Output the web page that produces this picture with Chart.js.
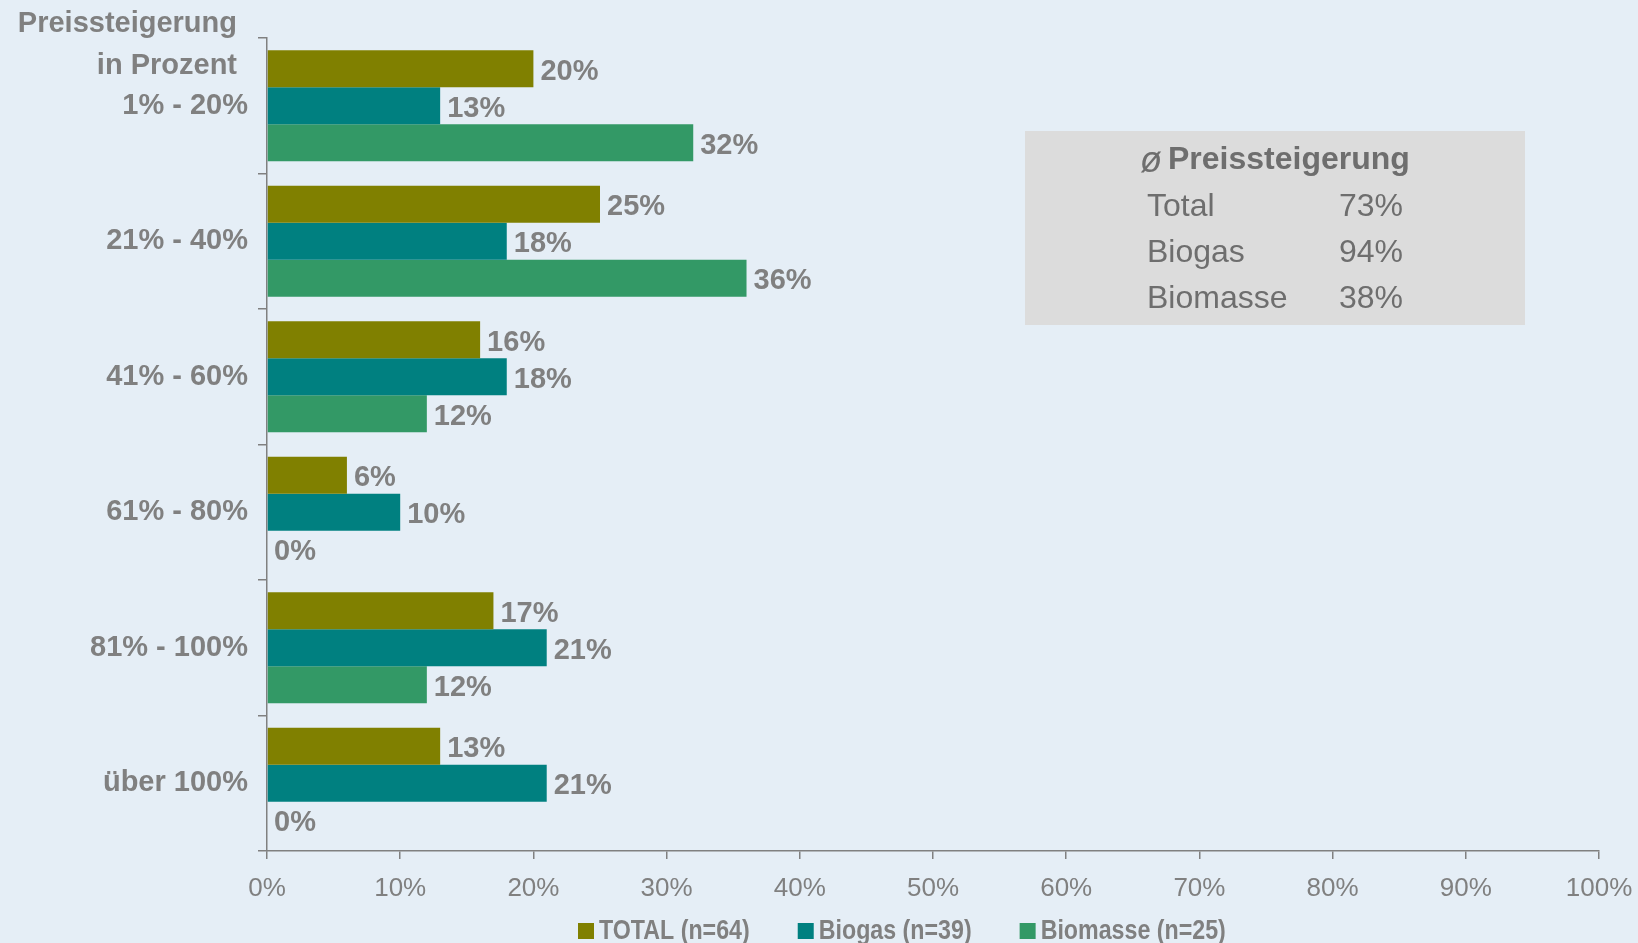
<!DOCTYPE html>
<html>
<head>
<meta charset="utf-8">
<script src="https://cdn.jsdelivr.net/npm/chart.js@4"></script>
<style>
  body { margin: 0; background: #e5eef6; }
  #wrap { width: 1638px; height: 943px; }
</style>
</head>
<body>
<div id="wrap"><canvas id="chart"></canvas></div>
<script>
const categories = ['1% - 20%', '21% - 40%', '41% - 60%', '61% - 80%', '81% - 100%', 'über 100%'];
const totalValues = [20, 25, 16, 6, 17, 13];
const biogasValues = [13, 18, 18, 10, 21, 21];
const biomasseValues = [32, 36, 12, 0, 12, 0];
const seriesNames = ['TOTAL (n=64)', 'Biogas (n=39)', 'Biomasse (n=25)'];
const averageRows = ['Total', 'Biogas', 'Biomasse'];
const averageValues = [73, 94, 38];

const GREY = '#808080';
const FONT = '"Liberation Sans", Arial, sans-serif';

// background, axis title, value labels, legend and the average box
const extras = {
    id: 'extras',
    beforeDraw(chart) {
        const ctx = chart.ctx;
        ctx.save();
        ctx.fillStyle = '#e5eef6';
        ctx.fillRect(0, 0, chart.width, chart.height);
        ctx.restore();
    },
    afterDatasetsDraw(chart) {
        const ctx = chart.ctx;
        ctx.save();
        ctx.fillStyle = GREY;
        ctx.font = 'bold 29px ' + FONT;
        ctx.textBaseline = 'middle';
        ctx.textAlign = 'left';
        chart.data.datasets.forEach((ds, i) => {
            chart.getDatasetMeta(i).data.forEach((bar, j) => {
                ctx.fillText(ds.data[j] + '%', bar.x + 7, bar.y + 3);
            });
        });

        // axis title
        ctx.textAlign = 'right';
        ctx.font = 'bold 29px ' + FONT;
        ctx.fillText('Preissteigerung', 237, 24);
        ctx.fillText('in Prozent', 237, 66);

        // legend (condensed bold, like the original)
        let lx = 578;
        const ly = 931;
        ctx.textAlign = 'left';
        ctx.font = 'bold 27px ' + FONT;
        chart.data.datasets.forEach(ds => {
            ctx.fillStyle = ds.backgroundColor;
            ctx.fillRect(lx, ly - 8, 16, 16);
            ctx.fillStyle = GREY;
            const sx = 0.86;
            ctx.save();
            ctx.translate(lx + 21, ly + 1);
            ctx.scale(sx, 1);
            ctx.fillText(ds.label, 0, 0);
            ctx.restore();
            lx += 21 + ctx.measureText(ds.label).width * sx + 48;
        });

        // average box
        ctx.fillStyle = '#dcdcdc';
        ctx.fillRect(1025, 131, 500, 194);
        ctx.fillStyle = '#6e6e6e';
        ctx.textAlign = 'left';
        ctx.font = 'italic 36px ' + FONT;
        ctx.fillText('ø', 1140, 162);
        ctx.font = 'bold 32px ' + FONT;
        ctx.fillText('Preissteigerung', 1168, 160);
        ctx.font = '32px ' + FONT;
        averageRows.forEach((r, i) => {
            const y = 207 + i * 46;
            ctx.textAlign = 'left';
            ctx.fillText(r, 1147, y);
            ctx.textAlign = 'right';
            ctx.fillText(averageValues[i] + '%', 1403, y);
        });
        ctx.restore();
    }
};

new Chart(document.getElementById('chart'), {
    type: 'bar',
    data: {
        labels: categories,
        datasets: [
            { label: seriesNames[0], data: totalValues, backgroundColor: '#808000' },
            { label: seriesNames[1], data: biogasValues, backgroundColor: '#008080' },
            { label: seriesNames[2], data: biomasseValues, backgroundColor: '#339966' }
        ]
    },
    options: {
        indexAxis: 'y',
        responsive: true,
        maintainAspectRatio: false,
        animation: false,
        layout: { padding: { top: 38, right: 39, left: 0, bottom: 34 } },
        datasets: { bar: { categoryPercentage: 0.82, barPercentage: 1.0 } },
        plugins: {
            tooltip: { enabled: false },
            legend: { display: false }
        },
        scales: {
            x: {
                min: 0,
                max: 100,
                ticks: {
                    stepSize: 10,
                    color: GREY,
                    padding: 14,
                    font: { family: FONT, size: 26 },
                    callback: v => v + '%'
                },
                grid: { drawOnChartArea: false, tickLength: 8, color: GREY, lineWidth: 1.5 },
                border: { color: GREY, width: 1.5 },
                afterFit: s => {
                    s.height = 58;
                    s.paddingLeft = 0;
                    s.paddingRight = 0;
                }
            },
            y: {
                ticks: {
                    color: GREY,
                    padding: 10,
                    font: { family: FONT, size: 29, weight: 'bold' }
                },
                grid: { drawOnChartArea: false, tickLength: 9, color: GREY, lineWidth: 1.5 },
                border: { color: GREY, width: 1.5 },
                afterFit: s => { s.width = 267; }
            }
        }
    },
    plugins: [extras]
});
</script>
</body>
</html>
